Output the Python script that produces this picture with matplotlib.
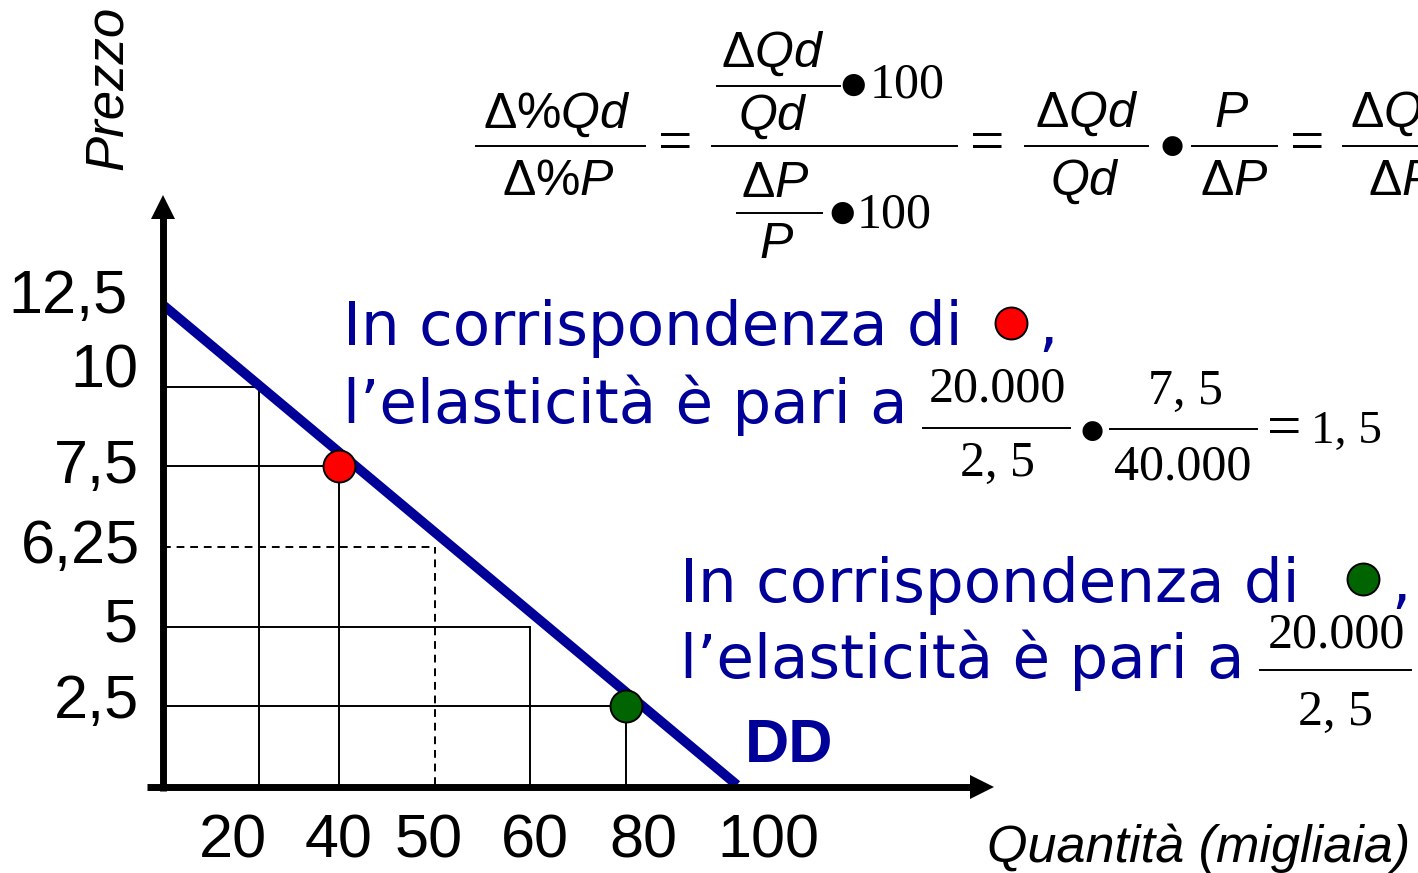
import numpy as np
import matplotlib
matplotlib.use("Agg")
import matplotlib.pyplot as plt
import matplotlib.transforms as mtransforms
from matplotlib.lines import Line2D

Q_TICKS = [20, 40, 50, 60, 80, 100]
Q_LABELS = ["20", "40", "50", "60", "80", "100"]
P_TICKS = [12.5, 10, 7.5, 6.25, 5, 2.5]
P_LABELS = ["12,5", "10", "7,5", "6,25", "5", "2,5"]

DEMAND_Q = [0, 100]
DEMAND_P = [12.5, 0]

GUIDE_Q = [20, 40, 50, 60, 80]
GUIDE_P = [10, 7.5, 6.25, 5, 2.5]
GUIDE_DASHED = [False, False, True, False, False]

POINT_Q = [40, 80]
POINT_P = [7.5, 2.5]
POINT_COLORS = ["#FF0000", "#006400"]

# il disegno originale e' schematico: scala a tratti (posizione relativa nel riquadro)
Q_KNOTS = [0, 20, 40, 50, 60, 80, 100]
Q_FRAC = np.array([0, 96, 176, 272, 367, 463, 574]) / 574
P_KNOTS = [0, 2.5, 5, 6.25, 7.5, 10, 12.5]
P_FRAC = np.array([0, 79, 158, 238, 319, 398, 480]) / 480

NAVY = "#000099"
W, H = 1418, 873

plt.rcParams["font.family"] = ["Liberation Sans", "DejaVu Sans"]
plt.rcParams["mathtext.fontset"] = "custom"
plt.rcParams["mathtext.rm"] = "Liberation Sans"
plt.rcParams["mathtext.it"] = "Liberation Sans:italic"
plt.rcParams["mathtext.bf"] = "Liberation Sans:bold"

fig = plt.figure(figsize=(W / 100, H / 100), dpi=100)
PX = mtransforms.Affine2D().scale(1 / W, -1 / H).translate(0, 1) + fig.transFigure

ax = fig.add_axes([163 / W, (H - 785) / H, 574 / W, 480 / H])
ax.set_xscale("function", functions=(lambda q: np.interp(q, Q_KNOTS, Q_FRAC),
                                     lambda f: np.interp(f, Q_FRAC, Q_KNOTS)))
ax.set_yscale("function", functions=(lambda p: np.interp(p, P_KNOTS, P_FRAC),
                                     lambda f: np.interp(f, P_FRAC, P_KNOTS)))
ax.set_xlim(0, 100)
ax.set_ylim(0, 12.5)
ax.set_axis_off()

# linee guida
for q, p, dashed in zip(GUIDE_Q, GUIDE_P, GUIDE_DASHED):
    ls = (0, (4, 3)) if dashed else "-"
    ax.plot([0, q], [p, p], color="black", lw=1.4, ls=ls, clip_on=False, zorder=2)
    ax.plot([q, q], [0, p], color="black", lw=1.4, ls=ls, clip_on=False, zorder=2)

# curva di domanda
ax.plot(DEMAND_Q, DEMAND_P, color=NAVY, lw=7, solid_capstyle="butt", clip_on=False, zorder=3)

for q, p, c in zip(POINT_Q, POINT_P, POINT_COLORS):
    ax.plot([q], [p], marker="o", ms=23, mfc=c, mec="black", mew=1.4, clip_on=False, zorder=5)

# etichette assi
Q_LAB_DX = [-26, 0, -6, 5, 17, 31]
for q, lab, dx in zip(Q_TICKS, Q_LABELS, Q_LAB_DX):
    tr = mtransforms.offset_copy(ax.get_xaxis_transform(), fig=fig, x=dx, y=-73, units="dots")
    ax.text(q, 0, lab, transform=tr, ha="center", va="baseline", fontsize=44)

P_LAB_DX = [-35, -25, -24, -23, -25, -24]
P_LAB_DY = [-8, 0, -17, -16, -15, -12]
for p, lab, dx, dy in zip(P_TICKS, P_LABELS, P_LAB_DX, P_LAB_DY):
    tr = mtransforms.offset_copy(ax.get_yaxis_transform(), fig=fig, x=dx, y=dy, units="dots")
    ax.text(0, p, lab, transform=tr, ha="right", va="baseline", fontsize=44)

# assi con frecce
fig.add_artist(Line2D([163, 163], [791, 216], transform=PX, color="black", lw=5, solid_capstyle="butt"))
fig.add_artist(Line2D([163], [207], transform=PX, marker="^", ms=17.3, mfc="black", mew=0, ls=""))
fig.add_artist(Line2D([147, 973], [787, 787], transform=PX, color="black", lw=5, solid_capstyle="butt"))
fig.add_artist(Line2D([982], [787], transform=PX, marker=">", ms=17.3, mfc="black", mew=0, ls=""))

fig.text(122, 170, "Prezzo", transform=PX, rotation=90, rotation_mode="anchor",
         ha="left", va="baseline", style="italic", fontsize=38)
fig.text(987, 862, "Quantità (migliaia)", transform=PX, ha="left", va="baseline",
         style="italic", fontsize=37.5)
fig.text(745, 762, "DD", transform=PX, ha="left", va="baseline", weight="bold",
         fontsize=44, color=NAVY)


def txt(x, y, s, size, ha="center", family="Liberation Sans", **kw):
    fig.text(x, y, s, transform=PX, ha=ha, va="baseline", fontsize=size,
             family=family, **kw)


def bar(x0, x1, y):
    fig.add_artist(Line2D([x0, x1], [y, y], transform=PX, color="black", lw=1.4))


def bullet(x, y, size=21):
    fig.text(x, y, "\u25CF", transform=PX, ha="center", va="center",
             fontsize=size, family="DejaVu Sans")


def equals(x, y, size=44):
    fig.text(x, y, "=", transform=PX, ha="center", va="center",
             fontsize=size, family="Liberation Serif")


SERIF = "Liberation Serif"

# formula in alto
txt(557, 128, r"$\Delta\%Qd$", 36)
bar(476, 645, 146)
txt(558, 195, r"$\Delta\%P$", 36)
equals(675, 146)
bar(712, 957, 146)
txt(773, 67, r"$\Delta Qd$", 36)
bar(717, 840, 86)
txt(773, 130, r"$Qd$", 36)
bullet(853, 85)
txt(870, 98, "100", 36, ha="left", family=SERIF)
txt(775, 197, r"$\Delta P$", 36)
bar(737, 822, 213)
txt(777, 258, r"$P$", 36)
bullet(842, 213)
txt(857, 228, "100", 36, ha="left", family=SERIF)
equals(987, 146)
txt(1087, 127, r"$\Delta Qd$", 36)
bar(1025, 1148, 146)
txt(1085, 195, r"$Qd$", 36)
bullet(1172, 146, 19)
txt(1232, 127, r"$P$", 36)
bar(1192, 1277, 146)
txt(1234, 195, r"$\Delta P$", 36)
equals(1307, 146)
bar(1343, 1440, 146)
txt(1350, 127, r"$\Delta Qd$", 36, ha="left")
txt(1368, 195, r"$\Delta P$", 36, ha="left")

# blocco rosso
blue = dict(family="DejaVu Sans", color=NAVY)
txt(343, 345, "In corrispondenza di", 44, ha="left", **blue)
fig.add_artist(Line2D([1011], [323], transform=PX, marker="o", ms=23, mfc=POINT_COLORS[0],
                      mec="black", mew=1.4, ls=""))
txt(1038, 345, ",", 44, ha="left", **blue)
txt(343, 423, "l\u2019elasticità è pari a", 44, ha="left", **blue)
txt(997, 402, "20.000", 36, family=SERIF)
bar(923, 1070, 428)
txt(997, 476, "2, 5", 36, family=SERIF)
bullet(1092, 431, 19)
txt(1185, 404, "7, 5", 36, family=SERIF)
bar(1110, 1257, 429)
txt(1183, 480, "40.000", 36, family=SERIF)
equals(1284, 431)
txt(1311, 443, "1, 5", 34, ha="left", family=SERIF)

# blocco verde
txt(680, 602, "In corrispondenza di", 44, ha="left", **blue)
fig.add_artist(Line2D([1363], [579], transform=PX, marker="o", ms=23, mfc=POINT_COLORS[1],
                      mec="black", mew=1.4, ls=""))
txt(1391, 602, ",", 44, ha="left", **blue)
txt(680, 678, "l\u2019elasticità è pari a", 44, ha="left", **blue)
txt(1336, 648, "20.000", 36, family=SERIF)
bar(1260, 1411, 670)
txt(1336, 725, "2, 5", 36, family=SERIF)

fig.savefig("out.png", dpi=100)
